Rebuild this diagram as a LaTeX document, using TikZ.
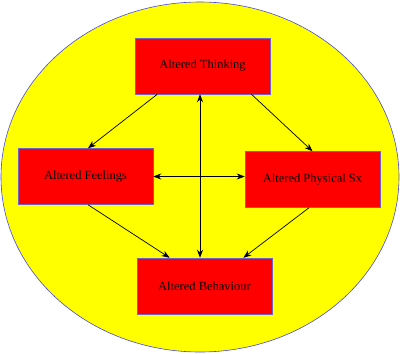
\documentclass[tikz,border=0pt]{standalone}
\usepackage{fontspec}
\setmainfont{Liberation Serif}
\usetikzlibrary{arrows.meta,positioning}
\definecolor{boxred}{HTML}{FF0000}
\definecolor{boxedge}{HTML}{7060C8}
\definecolor{ovalyellow}{HTML}{FFFF00}
\definecolor{ovaledge}{HTML}{4848E8}

\begin{document}
\begin{tikzpicture}[
  x=1pt, y=-1pt,
  font=\fontsize{12.5}{14}\selectfont,
  box/.style={draw=boxedge, fill=boxred, line width=0.5pt, align=center,
              inner sep=0pt, minimum height=56pt, minimum width=135pt},
  arr/.style={-{Stealth[length=8pt,width=6pt]}, line width=0.7pt},
  dbl/.style={{Stealth[length=8pt,width=6pt]}-{Stealth[length=8pt,width=6pt]}, line width=0.7pt}
]
\useasboundingbox (0,0) rectangle (400,354);
\draw[draw=ovaledge, fill=ovalyellow, line width=0.6pt] (200,177) ellipse [x radius=199, y radius=175];
\node[box] (think) at (202.5,66) {Altered Thinking};
\node[box] (feel) at (85.5,176.5) {Altered Feelings};
\node[box] (phys) at (312.5,179.5) {Altered Physical Sx};
\node[box] (behav) at (204.5,286) {Altered Behaviour};
\draw[arr] (think.212) -- ([xshift=2.5pt]feel.north);
\draw[arr] (think.-30) -- (phys.north);
\draw[dbl] ([xshift=-2.5pt]think.south) -- ([xshift=-4.5pt]behav.north);
\draw[dbl] (feel.east) -- (feel.east -| phys.west);
\draw[arr] ([xshift=2.5pt]feel.south) -- (behav.141);
\draw[arr] ([xshift=-3.5pt]phys.south) -- (behav.36);
\end{tikzpicture}
\end{document}
